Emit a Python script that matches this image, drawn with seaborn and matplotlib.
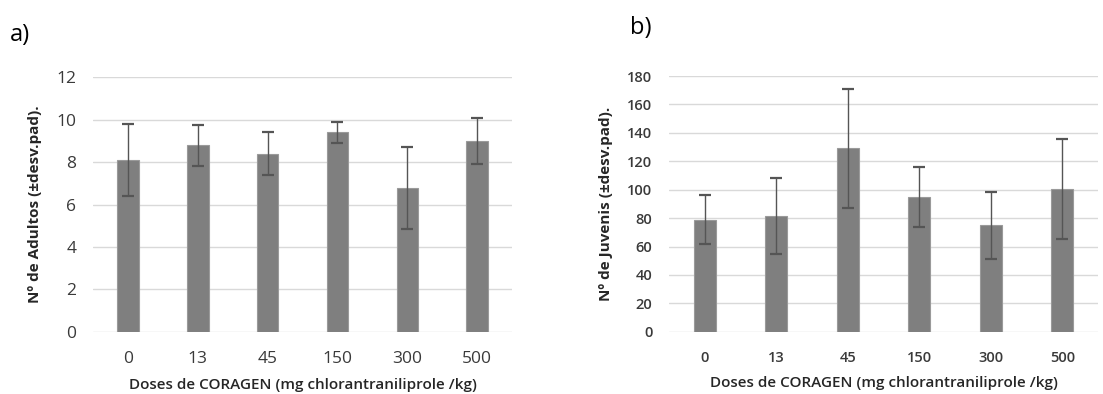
import matplotlib
matplotlib.use("Agg")
import matplotlib.pyplot as plt
import seaborn as sns
import pandas as pd
import numpy as np

doses = ["0", "13", "45", "150", "300", "500"]
adultos_mean = [8.1, 8.8, 8.4, 9.4, 6.8, 9.0]
adultos_sd = [1.7, 0.97, 1.02, 0.5, 1.93, 1.08]
juvenis_mean = [79, 81.5, 129, 95, 75, 100.5]
juvenis_sd = [17, 27, 42, 21, 23.5, 35]

sns.set_theme(style="white")
plt.rcParams['font.family'] = ['Open Sans', 'DejaVu Sans']

fig = plt.figure(figsize=(11.03, 3.94), dpi=100)
axa = fig.add_axes([0.0843, 0.158, 0.380, 0.6457])
axb = fig.add_axes([0.6065, 0.158, 0.389, 0.649])

bar_color = "#7f7f7f"
tick_color = "#3a3a3a"

def draw(ax, means, sds, ylim, yticks, ylabel, tickfs, tickweight):
    df = pd.DataFrame({"dose": doses, "val": means})
    sns.barplot(data=df, x="dose", y="val", ax=ax, color=bar_color,
                width=0.31, saturation=1, edgecolor="#9a9a9a", linewidth=0.8,
                zorder=3)
    xs = np.arange(len(doses))
    ax.errorbar(xs, means, yerr=sds, fmt="none", ecolor="#555555",
                elinewidth=1.0, capsize=4, capthick=1.6, zorder=4)
    ax.set_ylim(*ylim)
    ax.set_xlim(-0.5, len(doses) - 0.5)
    ax.set_yticks(yticks)
    ax.yaxis.grid(True, color="#d9d9d9", linewidth=1.0, zorder=0)
    ax.set_axisbelow(True)
    for s in ax.spines.values():
        s.set_visible(False)
    ax.tick_params(axis="both", length=0, colors=tick_color, labelsize=tickfs)
    ax.tick_params(axis="y", pad=12)
    ax.tick_params(axis="x", pad=14)
    for lab in ax.get_xticklabels() + ax.get_yticklabels():
        lab.set_fontweight(tickweight)
    ax.set_xlabel("Doses de CORAGEN (mg chlorantraniliprole /kg)",
                  fontsize=11, fontweight="semibold", color="#262626",
                  labelpad=8)
    ax.set_ylabel(ylabel, fontsize=11, fontweight="bold", color="#262626",
                  labelpad=10)

draw(axa, adultos_mean, adultos_sd, (0, 12), range(0, 13, 2),
     "Nº de Adultos (±desv.pad).", 12.5, "medium")
draw(axb, juvenis_mean, juvenis_sd, (0, 180), range(0, 181, 20),
     "Nº de Juvenis (±desv.pad).", 10.5, "semibold")

fig.text(0.009, 0.91, "a)", fontsize=17, color="#000000", va="center")
fig.text(0.571, 0.93, "b)", fontsize=17, color="#000000", va="center")

fig.savefig("out.png", dpi=100)
